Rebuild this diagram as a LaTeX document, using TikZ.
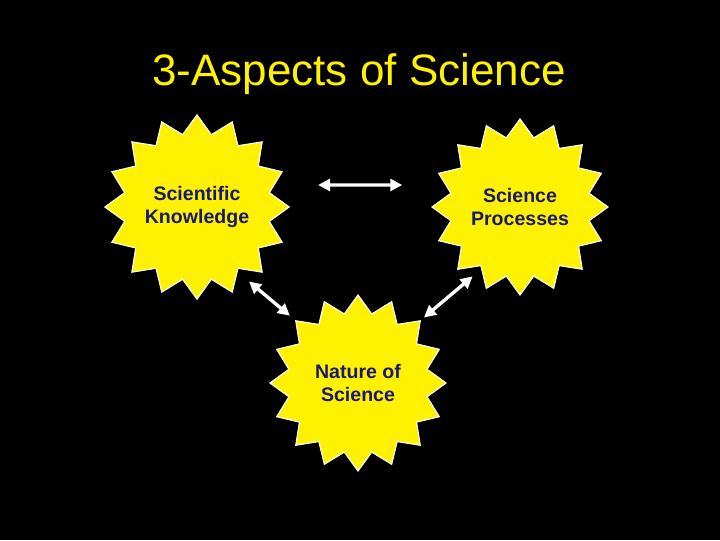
\documentclass[tikz,border=0pt]{standalone}
\usepackage{fontspec}
\setmainfont{Liberation Sans}
\usetikzlibrary{shapes.geometric,arrows.meta}
\definecolor{navytext}{RGB}{24,24,120}
\begin{document}
\begin{tikzpicture}[x=0.025cm, y=-0.025cm,
        burst/.style = {star, star points=16, star point ratio=1.25,
        minimum size=4.4cm, inner sep=0pt, draw=white, line width=0.8pt,
        fill=yellow, text=navytext, align=center,
        font=\fontsize{13.9}{16.7}\selectfont\bfseries},
        link/.style = {white, line width=2.4pt,
        {Triangle[length=8.5pt,width=8.5pt]}-{Triangle[length=8.5pt,width=8.5pt]}}]
    \fill[black] (0,0) rectangle (720,540);
    \node (title) [anchor=base, text=yellow, font=\fontsize{31.3}{38}\selectfont]
        at (359,85) {3-Aspects of Science};
    \node (know) [burst] at (197,207) {Scientific\\Knowledge};
    \node (proc) [burst] at (520,207) {Science\\Processes};
    \node (nature) [burst] at (358,383) {Nature of\\Science};
    % double arrows between the three aspects
    \draw[link, shorten <=0.7cm, shorten >=0.72cm]
        ([yshift=0.55cm]know.east) -- ([yshift=0.55cm]proc.west);
    \draw[link, shorten <=0.37cm, shorten >=0.17cm] (know.-58) -- (nature.135);
    \draw[link, shorten <=0.28cm, shorten >=0.1cm] (proc.-122) -- (nature.45);
\end{tikzpicture}
\end{document}
